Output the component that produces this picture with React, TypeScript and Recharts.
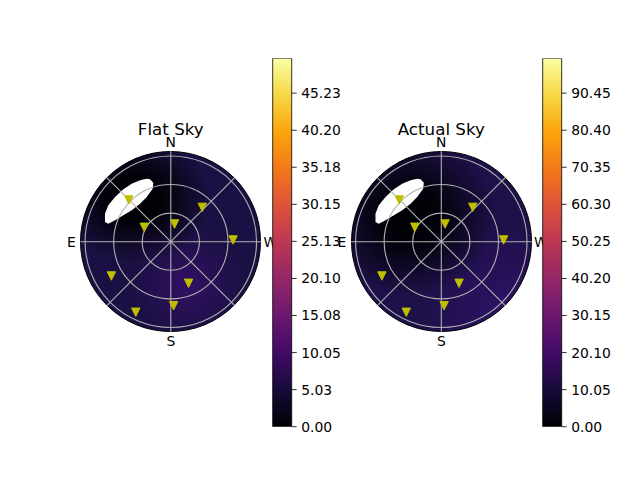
import { RadarChart, Radar, PolarGrid, PolarAngleAxis, PolarRadiusAxis, BarChart, Bar, XAxis, YAxis } from 'recharts';

// star positions: azimuth (deg, N=0, E=90) and zenith angle (deg)
const starAz = [45.2, 61.5, 348, 317.5, 271.6, 120, 203.1, 182.5, 153.6];
const starZen = [62.1, 31.7, 19.0, 48.9, 65.4, 72.0, 47.5, 67.3, 82.7];

// outline of the saturated (white) patch
const blobAz = [18.4, 16.5, 18.9, 28.3, 39.0, 51.2, 60.9, 69.0, 73.9, 73.3, 67.0, 59.8, 51.3, 42.2, 34.0, 26.6, 20.9];
const blobZen = [69.0, 64.6, 58.8, 53.3, 51.3, 52.6, 57.0, 62.7, 68.3, 72.1, 75.1, 75.9, 75.0, 74.2, 73.4, 72.1, 70.8];

const compassTicks = [0, 45, 90, 135, 180, 225, 270, 315];
const compassNames = ['N', '', 'E', '', 'S', '', 'W', ''];
const zenithTicks = [30, 60, 90];
const zenithMax = 95;

const flatTicks = [0, 5.03, 10.05, 15.08, 20.1, 25.13, 30.15, 35.18, 40.2, 45.23];
const flatMax = 49.95;
const actualTicks = [0, 10.05, 20.1, 30.15, 40.2, 50.25, 60.3, 70.35, 80.4, 90.45];
const actualMax = 99.9;

const infernoStops = ['#000004', '#160b39', '#420a68', '#6a176e', '#932667', '#bc3754', '#dd513a', '#f37819', '#fca50a', '#f6d746', '#fcffa4'];

const starData = starAz.map((az, i) => ({ az, zen: starZen[i] }));
const blobData = blobAz.map((az, i) => ({ az, zen: blobZen[i] }));

const FONT = '"DejaVu Sans", sans-serif';
const W = 640;
const H = 480;
const CY = 241.7;
const R = 90.5;

const flatBg = [
  'radial-gradient(circle at 50% 50%, rgba(0,0,4,0) 88%, rgba(0,0,4,0.9) 100%)',
  'radial-gradient(ellipse 42% 36% at 30% 26%, #000004 0%, rgba(0,0,4,0.95) 35%, rgba(0,0,4,0) 100%)',
  'radial-gradient(circle at 60% 74%, rgba(52,16,104,0.9) 0%, rgba(52,16,104,0) 32%)',
  'radial-gradient(circle at 37% 50%, rgba(40,14,84,0.7) 0%, rgba(40,14,84,0) 14%)',
  '#1b1043',
].join(',');

const actualBg = [
  'radial-gradient(circle at 50% 50%, rgba(0,0,4,0) 88%, rgba(0,0,4,0.9) 100%)',
  'radial-gradient(ellipse 48% 44% at 32% 36%, #000004 0%, rgba(0,0,4,0.9) 35%, rgba(0,0,4,0) 100%)',
  'radial-gradient(circle at 85% 88%, rgba(46,18,104,0.9) 0%, rgba(46,18,104,0) 40%)',
  '#1e1048',
].join(',');

function CompassTick(props: any) {
  const { x, y, payload } = props;
  const label = compassNames[compassTicks.indexOf(payload.value)];
  if (!label) return <g />;
  return (
    <text x={x} y={y} textAnchor="middle" dominantBaseline="central" fontSize={13.9} fontFamily={FONT} fill="#000">
      {label}
    </text>
  );
}

function StarMarker(props: any) {
  const { cx, cy } = props;
  const s = 4.2;
  return (
    <polygon
      points={`${cx - s},${cy - s} ${cx + s},${cy - s} ${cx},${cy + s}`}
      fill="#bfbf00"
      stroke="#bfbf00"
      strokeWidth={1}
    />
  );
}

const layer: React.CSSProperties = { position: 'absolute', left: 0, top: 0 };

function SkyPanel({ cx, title, background }: { cx: number; title: string; background: string }) {
  return (
    <>
      <div
        style={{
          position: 'absolute',
          left: cx - R,
          top: CY - R,
          width: 2 * R,
          height: 2 * R,
          borderRadius: '50%',
          border: '1px solid #000',
          boxSizing: 'border-box',
          background,
        }}
      />
      <div style={layer}>
        <RadarChart width={W} height={H} cx={cx} cy={CY} outerRadius={R} startAngle={90} endAngle={450} data={blobData}>
          <PolarAngleAxis dataKey="az" type="number" domain={[0, 360]} ticks={compassTicks} tick={false} axisLine={false} tickLine={false} />
          <PolarRadiusAxis type="number" domain={[0, zenithMax]} ticks={zenithTicks} tick={false} axisLine={false} />
          <Radar dataKey="zen" fill="#ffffff" fillOpacity={1} stroke="none" dot={false} isAnimationActive={false} />
        </RadarChart>
      </div>
      <div style={layer}>
        <RadarChart width={W} height={H} cx={cx} cy={CY} outerRadius={R} startAngle={90} endAngle={450} data={starData}>
          <PolarGrid gridType="circle" stroke="#b0b0b0" strokeWidth={1.1} />
          <PolarAngleAxis
            dataKey="az"
            type="number"
            domain={[0, 360]}
            ticks={compassTicks}
            tick={<CompassTick />}
            tickSize={9}
            axisLine={false}
            tickLine={false}
          />
          <PolarRadiusAxis type="number" domain={[0, zenithMax]} ticks={zenithTicks} tick={false} axisLine={false} />
          <Radar dataKey="zen" fill="none" fillOpacity={0} stroke="none" dot={<StarMarker />} isAnimationActive={false} />
        </RadarChart>
      </div>
      <svg width={W} height={H} style={layer}>
        <text x={cx} y={135} textAnchor="middle" fontSize={16.7} fontFamily={FONT} fill="#000">
          {title}
        </text>
      </svg>
    </>
  );
}

function ColorBar({ left, max, ticks, id }: { left: number; max: number; ticks: number[]; id: string }) {
  const barW = 19;
  const axisW = 60;
  return (
    <div style={layer}>
      <BarChart
        width={W}
        height={H}
        data={[{ k: 'c', v: max }]}
        margin={{ top: 58.3, bottom: H - 426.7, left, right: W - left - barW - axisW }}
        barCategoryGap={0}
      >
        <defs>
          <linearGradient id={id} x1="0" y1="1" x2="0" y2="0">
            {infernoStops.map((c, i) => (
              <stop key={i} offset={`${i * 10}%`} stopColor={c} />
            ))}
          </linearGradient>
        </defs>
        <XAxis dataKey="k" hide />
        <YAxis
          orientation="right"
          width={axisW}
          type="number"
          domain={[0, max]}
          ticks={ticks}
          interval={0}
          tickFormatter={(v: number) => v.toFixed(2)}
          tick={{ fill: '#000', fontSize: 13.9, fontFamily: FONT }}
          tickLine={{ stroke: '#000', strokeWidth: 0.8 }}
          tickSize={5}
          tickMargin={4.5}
          axisLine={false}
          allowDataOverflow
        />
        <Bar dataKey="v" fill={`url(#${id})`} stroke="#000" strokeWidth={0.8} isAnimationActive={false} />
      </BarChart>
    </div>
  );
}

export default function App() {
  return (
    <div style={{ position: 'absolute', left: 0, top: 0, width: W, height: H, background: '#fff', overflow: 'hidden' }}>
      <SkyPanel cx={170.8} title="Flat Sky" background={flatBg} />
      <SkyPanel cx={441.3} title="Actual Sky" background={actualBg} />
      <ColorBar left={272.7} max={flatMax} ticks={flatTicks} id="infernoFlat" />
      <ColorBar left={542.7} max={actualMax} ticks={actualTicks} id="infernoActual" />
    </div>
  );
}
